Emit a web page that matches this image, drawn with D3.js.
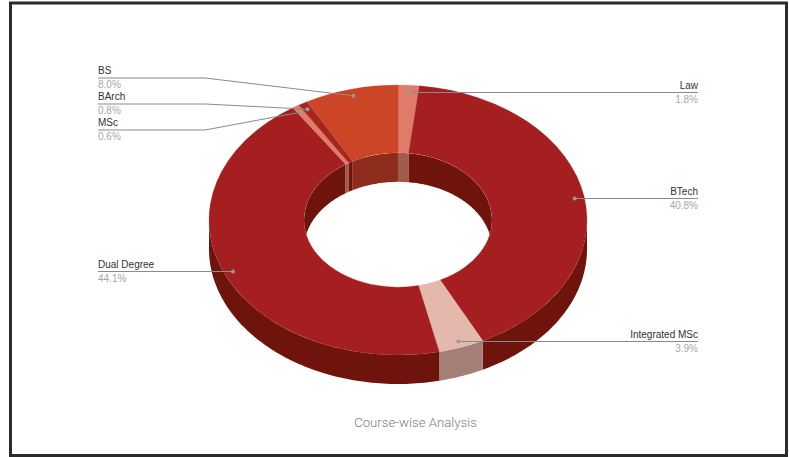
<!DOCTYPE html>
<html><head><meta charset="utf-8">
<script src="https://cdn.jsdelivr.net/npm/d3@7"></script>
<style>html,body{margin:0;background:#fff}svg{display:block}text{font-family:Roboto,sans-serif}text.lab{font-family:"Liberation Sans",sans-serif}</style>
</head><body><svg id="c" width="789" height="457"></svg>
<script>
const categories=["Law","BTech","Integrated MSc","Dual Degree","MSc","BArch","BS"];
const shares=[1.8,40.8,3.9,44.1,0.6,0.8,8.0];
const labels=["1.8%","40.8%","3.9%","44.1%","0.6%","0.8%","8.0%"];
const topColors=["#e07b69","#a51e20","#e5b8ae","#a51e20","#e07b69","#a5251f","#cc4526"];
const wallColors=["#a05a4e","#6f140d","#a37f78","#6f140d","#a05a4e","#6f140d","#8f2d1c"];
const title="Course-wise Analysis";

const cx=398,cy=220,rx=189,ry=135,irx=94,depth=29,k=ry/rx;
const svg=d3.select("#c");
svg.append("rect").attr("x",10.5).attr("y",3).attr("width",776).attr("height",452.5)
  .attr("fill","#fff").attr("stroke","#2b2b2b").attr("stroke-width",3);
const pieData=d3.pie().sort(null).value(d=>d)(shares);
const X=(r,a)=>cx+r*Math.sin(a), Y=(r,a,z=0)=>cy-r*k*Math.cos(a)+z;
const line=d3.line();
function wall(r,a0,a1){
  const n=Math.max(2,Math.ceil((a1-a0)/0.02));
  const s=d3.range(n+1).map(i=>a0+(a1-a0)*i/n);
  return line([...s.map(a=>[X(r,a),Y(r,a)]),...s.slice().reverse().map(a=>[X(r,a),Y(r,a,depth)])])+"Z";
}
const hp=Math.PI/2;
// outer walls, front half only
const outerG=svg.append("g");
pieData.forEach((p,i)=>{
  const a0=Math.max(p.startAngle,hp),a1=Math.min(p.endAngle,3*hp);
  if(a1>a0) outerG.append("path").attr("d",wall(rx,a0,a1)).attr("fill",wallColors[i]);
});
// inner walls, back half only, seen through the hole
svg.append("clipPath").attr("id","hole").append("ellipse")
  .attr("cx",cx).attr("cy",cy).attr("rx",irx).attr("ry",irx*k);
const innerG=svg.append("g").attr("clip-path","url(#hole)");
pieData.forEach((p,i)=>{
  [[p.startAngle,Math.min(p.endAngle,hp)],[Math.max(p.startAngle,3*hp),p.endAngle]].forEach(([a0,a1])=>{
    if(a1>a0) innerG.append("path").attr("d",wall(irx,a0,a1)).attr("fill",wallColors[i]);
  });
});
// top surface
const ringArc=d3.arc().innerRadius(irx).outerRadius(rx);
const surface=svg.append("g").attr("transform",`translate(${cx},${cy}) scale(1,${k})`);
surface.selectAll("path").data(pieData).join("path").attr("d",ringArc)
  .attr("fill",(d,i)=>topColors[i]).attr("stroke",(d,i)=>topColors[i]).attr("stroke-width",.3);
// leaders
const elbow={BS:[[98,78],[205,78]],BArch:[[98,104],[205,104]],MSc:[[98,130],[205,130]]};
const side={"Law":698,"BTech":698,"Integrated MSc":698,"Dual Degree":98};
const anchor=d3.arc().innerRadius(rx*.95).outerRadius(rx*.95);
const lead=svg.append("g");
pieData.forEach((p,i)=>{
  const cat=categories[i];
  const c=anchor.centroid(p),dx=cx+c[0],dy=cy+c[1]*k;
  const pts=elbow[cat]?[...elbow[cat],[dx,dy]]:[[side[cat],Math.round(dy)+.5],[dx,Math.round(dy)+.5]];
  lead.append("path").attr("d",line(pts)).attr("fill","none").attr("stroke","#8a8a8a").attr("stroke-width",1);
  lead.append("circle").attr("cx",pts[pts.length-1][0]).attr("cy",pts[pts.length-1][1]).attr("r",2).attr("fill","#9a9a9a");
  const right=pts[0][0]>cx,ty=pts[0][1];
  lead.append("text").attr("class","lab").attr("x",pts[0][0]).attr("y",ty-4).attr("text-anchor",right?"end":"start")
    .attr("font-size",10).attr("fill","#333").text(cat);
  lead.append("text").attr("class","lab").attr("x",pts[0][0]).attr("y",ty+10).attr("text-anchor",right?"end":"start")
    .attr("font-size",10).attr("fill","#a6a6a6").text(labels[i]);
});
svg.append("text").attr("x",415.5).attr("y",427).attr("text-anchor","middle")
  .attr("font-size",13.2).attr("font-weight",300).attr("fill","#808080").text(title);
</script></body></html>
